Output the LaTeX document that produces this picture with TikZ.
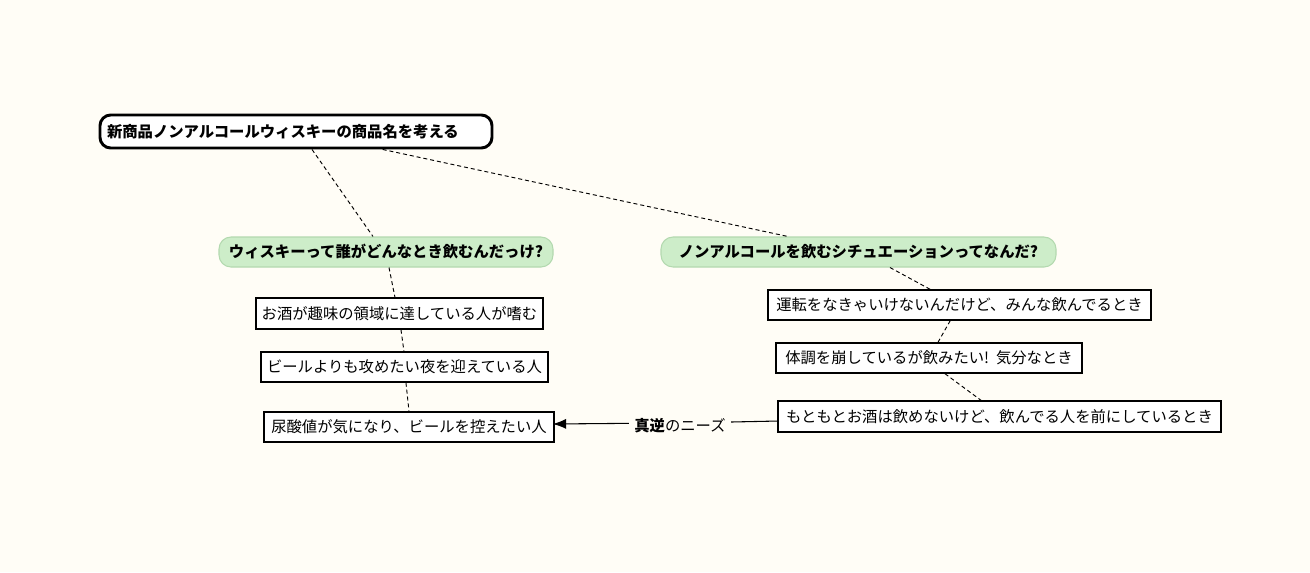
\documentclass[tikz,border=0pt]{standalone}
\usepackage{fontspec}
\setmainfont{Noto Sans CJK JP}
\usetikzlibrary{calc,arrows.meta}
\definecolor{bg}{HTML}{FFFDF6}
\definecolor{qfill}{HTML}{CDEDC9}
\definecolor{qdraw}{HTML}{B3D9AF}
\begin{document}
\begin{tikzpicture}[x=0.75pt,y=-0.75pt,
  every node/.style={font=\fontsize{11.5}{13}\selectfont, inner sep=0pt},
  rootbox/.style={draw=black, line width=2.2pt, rounded corners=8pt, fill=white, minimum height=24.75pt, text width=283.5pt, align=left, inner xsep=5.25pt, font=\fontsize{11.5}{13}\selectfont\bfseries},
  qbox/.style={draw=qdraw, line width=0.8pt, fill=qfill, rounded corners=9pt, minimum height=22.5pt, font=\fontsize{11.5}{13}\selectfont\bfseries},
  leaf/.style={draw=black, line width=1.1pt, fill=white, minimum height=22.5pt},
  link/.style={line width=0.7pt, dash pattern=on 3pt off 2.2pt},
]
\fill[bg] (0,0) rectangle (1310,572);
\useasboundingbox (0,0) rectangle (1310,572);

\node[rootbox] (root) at (296,131.5) {新商品ノンアルコールウィスキーの商品名を考える};
\node[qbox, minimum width=250.5pt] (q1) at (386,252) {ウィスキーって誰がどんなとき飲むんだっけ?};
\node[qbox, minimum width=296.25pt] (q2) at (858.5,252) {ノンアルコールを飲むシチュエーションってなんだ?};

\node[leaf, minimum width=215.25pt, minimum height=23.25pt] (l1) at (399.5,313.5) {お酒が趣味の領域に達している人が嗜む};
\node[leaf, minimum width=215.25pt] (l2) at (404.5,367) {ビールよりも攻めたい夜を迎えている人};
\node[leaf, minimum width=217.5pt] (l3) at (409,427) {尿酸値が気になり、ビールを控えたい人};

\node[leaf, minimum width=287.25pt] (r1) at (959.5,305) {運転をなきゃいけないんだけど、みんな飲んでるとき};
\node[leaf, minimum width=229.5pt] (r2) at (929,358) {体調を崩しているが飲みたい!\ \ 気分なとき};
\node[leaf, minimum width=332.25pt, minimum height=23.25pt] (r3) at (999.5,416.5) {もともとお酒は飲めないけど、飲んでる人を前にしているとき};

\node (lbl) at (680,426) {\textbf{真逆}のニーズ};

\draw[link] ([xshift=12pt]root.south) -- ([xshift=-9.75pt]q1.north);
\draw[link] ([xshift=65pt]root.south) -- ([xshift=-53pt]q2.north);
\draw[link] ([xshift=2.25pt]q1.south) -- ([xshift=-3.4pt]l1.north);
\draw[link] ([xshift=1.1pt]l1.south) -- ([xshift=-0.4pt]l2.north);
\draw[link] ([xshift=1.1pt]l2.south) -- (l3.north);
\draw[link] ([xshift=23.6pt]q2.south) -- ([xshift=-22.1pt]r1.north);
\draw[link] ([xshift=-7pt]r1.south) -- ([xshift=6.75pt]r2.north);
\draw[link] ([xshift=12pt]r2.south) -- ([xshift=-13.9pt]r3.north);

\draw[line width=0.8pt] ([yshift=-3.4pt]r3.west) -- ([xshift=4pt,yshift=3pt]lbl.east);
\draw[line width=0.8pt, -{Latex[length=10pt,width=7.5pt]}] ([xshift=-4pt,yshift=2pt]lbl.west) -- ([yshift=2.25pt,xshift=-1.5pt]l3.east);
\end{tikzpicture}
\end{document}
